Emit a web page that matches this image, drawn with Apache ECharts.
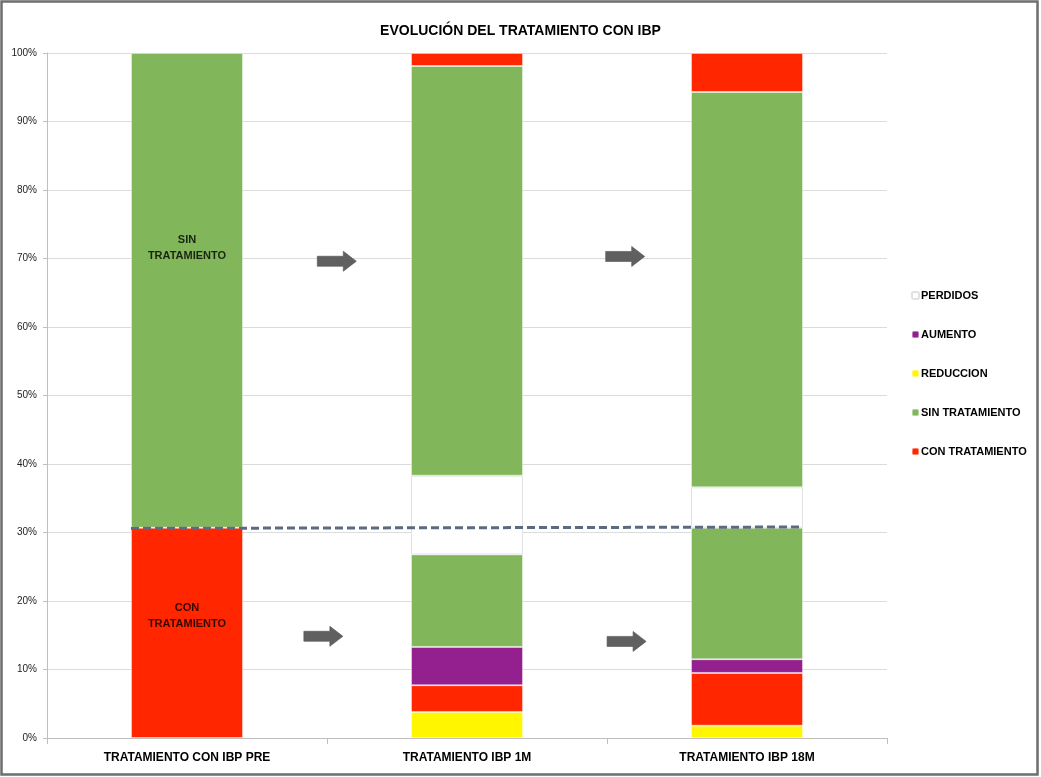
<!DOCTYPE html>
<html>
<head>
<meta charset="utf-8">
<title>Evolución del tratamiento con IBP</title>
<script src="https://cdn.jsdelivr.net/npm/echarts@6/dist/echarts.min.js"></script>
<style>
  html, body { margin: 0; padding: 0; background: #ffffff; }
  #chart { width: 1041px; height: 777px; }
</style>
</head>
<body>
<div id="chart"></div>
<script>
// Categories (time points) and stacked percentages, bottom to top
const categories = ['TRATAMIENTO CON IBP PRE', 'TRATAMIENTO IBP 1M', 'TRATAMIENTO IBP 18M'];
const reduccion = [null, 3.8, 1.8];
const conTratamiento = [30.7, 3.9, 7.7];
const aumento = [null, 5.6, 2.0];
const sinTratamiento = [69.3, 13.5, 19.2];
const perdidos = [null, 11.5, 5.9];
const sinTratamientoSeguimiento = [null, 59.8, 57.7];
const conTratamientoSeguimiento = [null, 1.9, 5.7];
const legendOrder = ['PERDIDOS', 'AUMENTO', 'REDUCCION', 'SIN TRATAMIENTO', 'CON TRATAMIENTO'];
const yTickValues = [0, 10, 20, 30, 40, 50, 60, 70, 80, 90, 100];

const COLORS = {
  green: '#82B65A',
  red: '#FF2600',
  purple: '#93208E',
  yellow: '#FFF600',
  white: '#FFFFFF'
};

const FONT = '"Liberation Sans", Arial, sans-serif';

function stackBar(name, data, color, border) {
  return {
    name: name,
    type: 'bar',
    stack: 'total',
    data: data,
    barWidth: '40%',
    itemStyle: {
      color: color,
      borderColor: border || 'rgba(255,255,255,0.4)',
      borderWidth: 1
    },
    emphasis: { disabled: true },
    z: 2
  };
}

const arrowPath = 'path://M0,5 L26,5 L26,0 L39,10 L26,20 L26,15 L0,15 Z';

const chart = echarts.init(document.getElementById('chart'), null, { renderer: 'canvas' });

chart.setOption({
  backgroundColor: '#ffffff',
  animation: false,
  title: {
    text: 'EVOLUCIÓN DEL TRATAMIENTO CON IBP',
    left: 'center',
    top: 19,
    textStyle: { fontFamily: FONT, fontSize: 14, fontWeight: 'bold', color: '#000' }
  },
  legend: {
    data: legendOrder,
    orient: 'vertical',
    left: 906,
    top: 285,
    itemWidth: 7,
    itemHeight: 7,
    itemGap: 28,
    selectedMode: false,
    textStyle: { fontFamily: FONT, fontSize: 11, fontWeight: 'bold', color: '#000', padding: [0, 0, 0, -3] }
  },
  grid: { left: 47, right: 154, top: 53, bottom: 39, containLabel: false },
  xAxis: [
    {
      type: 'category',
      data: categories,
      axisLine: { show: true, lineStyle: { color: '#bfbfbf', width: 1 } },
      axisTick: { show: true, length: 6, lineStyle: { color: '#bfbfbf' } },
      axisLabel: { fontFamily: FONT, fontSize: 12, fontWeight: 'bold', color: '#000', margin: 14 },
      splitLine: { show: false }
    },
    {
      type: 'value',
      min: 0,
      max: 3,
      show: false
    }
  ],
  yAxis: {
    type: 'value',
    min: yTickValues[0],
    max: yTickValues[yTickValues.length - 1],
    interval: 10,
    axisLine: { show: true, lineStyle: { color: '#bfbfbf' } },
    axisTick: { show: true, length: 4, lineStyle: { color: '#bfbfbf' } },
    axisLabel: { formatter: '{value}%', fontFamily: FONT, fontSize: 10, color: '#222', margin: 10 },
    splitLine: { show: true, lineStyle: { color: '#dcdcdc', width: 1 } }
  },
  series: [
    stackBar('REDUCCION', reduccion, COLORS.yellow),
    stackBar('CON TRATAMIENTO', conTratamiento, COLORS.red),
    stackBar('AUMENTO', aumento, COLORS.purple),
    stackBar('SIN TRATAMIENTO', sinTratamiento, COLORS.green),
    stackBar('PERDIDOS', perdidos, COLORS.white, '#e2e2e2'),
    stackBar('SIN TRATAMIENTO', sinTratamientoSeguimiento, COLORS.green),
    stackBar('CON TRATAMIENTO', conTratamientoSeguimiento, COLORS.red),
    // Baseline share of treated patients, carried across the follow-ups
    {
      name: 'referencia',
      type: 'line',
      xAxisIndex: 1,
      data: [[0.3, 30.6], [2.7, 30.8]],
      symbol: 'none',
      lineStyle: { color: '#5B6A82', width: 3, type: [8, 4] },
      silent: true,
      z: 5
    },
    // Transition arrows between time points
    {
      name: 'flechas',
      type: 'scatter',
      xAxisIndex: 1,
      data: [[1.035, 69.6], [2.065, 70.3], [0.987, 14.85], [2.07, 14.1]],
      symbol: arrowPath,
      symbolSize: [39, 20],
      itemStyle: { color: '#606060', borderColor: '#555555', borderWidth: 0.6, opacity: 1 },
      silent: true,
      z: 4
    },
    // Segment captions on the first bar
    {
      name: 'etiquetas',
      type: 'scatter',
      xAxisIndex: 0,
      data: [
        { value: [0, 71.6], label: { formatter: 'SIN\nTRATAMIENTO' } },
        { value: [0, 17.8], label: { formatter: 'CON\nTRATAMIENTO' } }
      ],
      symbolSize: 0,
      label: {
        show: true,
        position: 'inside',
        fontFamily: FONT,
        fontSize: 11,
        fontWeight: 'bold',
        color: '#000',
        lineHeight: 16,
        align: 'center'
      },
      silent: true,
      z: 6
    }
  ],
  graphic: [
    {
      type: 'rect',
      shape: { x: 1.5, y: 1.5, width: 1036, height: 773 },
      style: { fill: 'none', stroke: '#6e6e6e', lineWidth: 2.5 },
      silent: true,
      z: 100
    }
  ]
});
</script>
</body>
</html>
